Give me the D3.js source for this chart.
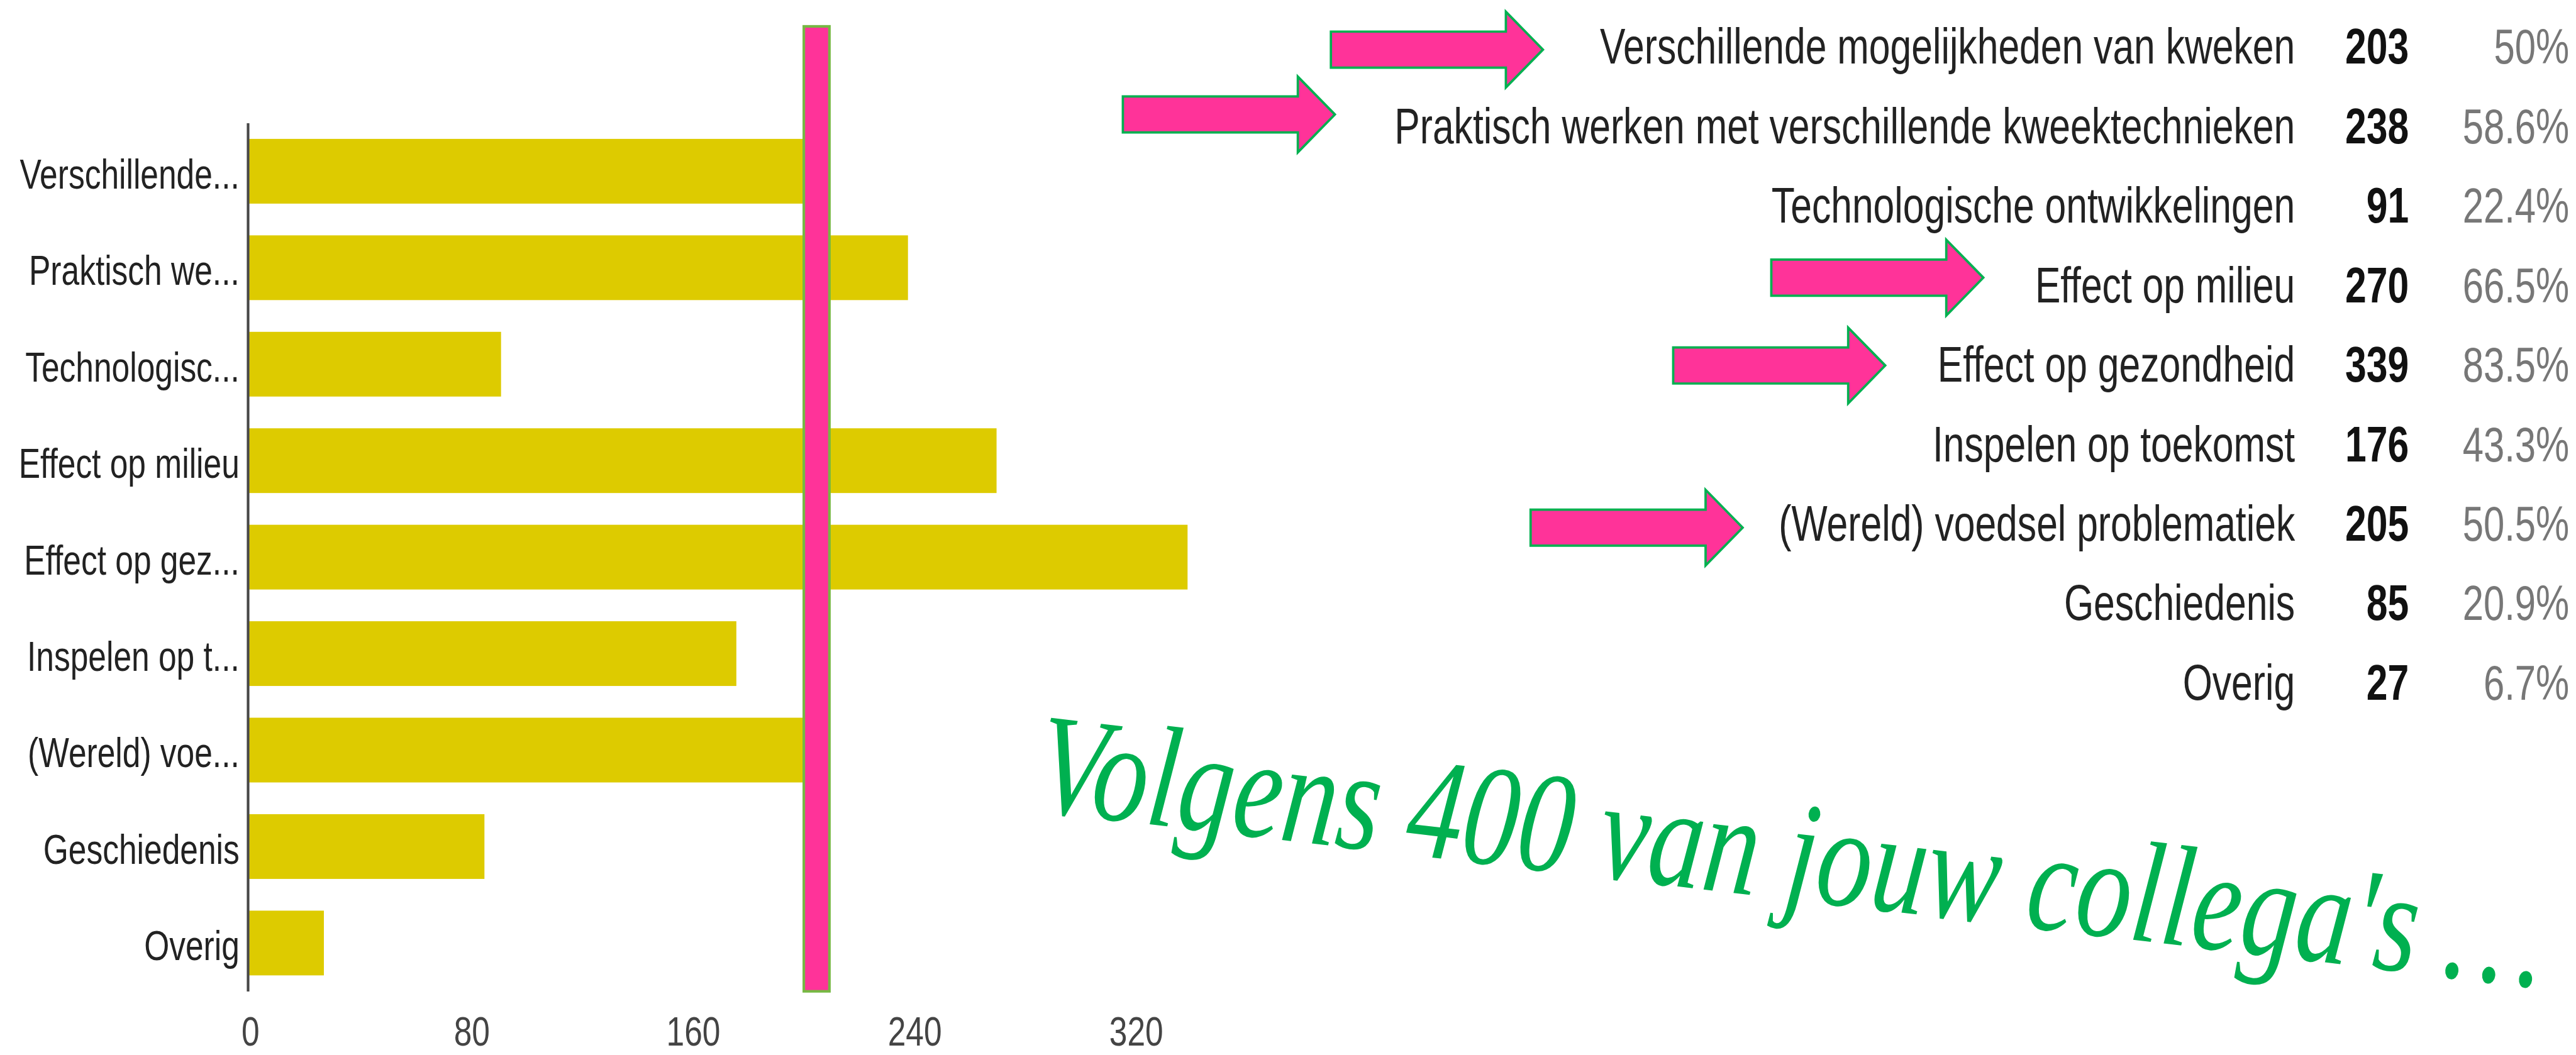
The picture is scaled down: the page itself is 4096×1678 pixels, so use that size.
<!DOCTYPE html>
<html>
<head>
<meta charset="utf-8">
<script src="https://cdn.jsdelivr.net/npm/d3@7"></script>
<style>
  html, body { margin: 0; padding: 0; background: #ffffff; }
  svg { display: block; }
</style>
</head>
<body>
<script>
// ---------------- DATA ----------------
const categories = [
  "Verschillende mogelijkheden van kweken",
  "Praktisch werken met verschillende kweektechnieken",
  "Technologische ontwikkelingen",
  "Effect op milieu",
  "Effect op gezondheid",
  "Inspelen op toekomst",
  "(Wereld) voedsel problematiek",
  "Geschiedenis",
  "Overig"
];
const axisLabels = [
  "Verschillende...",
  "Praktisch we...",
  "Technologisc...",
  "Effect op milieu",
  "Effect op gez...",
  "Inspelen op t...",
  "(Wereld) voe...",
  "Geschiedenis",
  "Overig"
];
const counts = [203, 238, 91, 270, 339, 176, 205, 85, 27];
const percentLabels = ["50%", "58.6%", "22.4%", "66.5%", "83.5%", "43.3%", "50.5%", "20.9%", "6.7%"];
const xTicks = [0, 80, 160, 240, 320];
const xDomainMax = 400;
const markerValue = 205;   // pink highlight line
const highlighted = [
  "Verschillende mogelijkheden van kweken",
  "Praktisch werken met verschillende kweektechnieken",
  "Effect op milieu",
  "Effect op gezondheid",
  "(Wereld) voedsel problematiek"
];
const annotationText = "Volgens 400 van jouw collega's \u2026";

// ---------------- LAYOUT (reference pixel space) ----------------
const W = 4096, H = 1678;
const S = W / 4932;          // draw at 0.830 of reference size
const K = 1.31;              // vertical text stretch seen in the reference
const FONT = "'Liberation Sans', Arial, sans-serif";
const BAR = "#DDCB00", PINK = "#FF3399", GREEN = "#00B050", LINEGREEN = "#76B843";

// arrow nudges per highlighted row: gap from label start, lift above baseline
const arrowLayout = [
  {gap: 109, lift: 27},
  {gap: 114, lift: 55},
  {gap: 99,  lift: 47},
  {gap: 100, lift: 31},
  {gap: 69,  lift: 25}
];

const svg = d3.select("body").append("svg")
  .attr("width", W).attr("height", H)
  .attr("viewBox", `0 0 ${W} ${H}`);
svg.append("rect").attr("width", W).attr("height", H).attr("fill", "#fff");
const root = svg.append("g").attr("transform", `scale(${S})`);

// ---------------- LEFT BAR CHART ----------------
const x = d3.scaleLinear().domain([0, xDomainMax]).range([477, 477 + 5.30 * xDomainMax]);
const y = d3.scaleBand().domain(categories).range([235.6, 1898.4])
  .paddingInner(0.329).paddingOuter(0.1645);

root.append("g").selectAll("rect.bar")
  .data(categories)
  .join("rect")
  .attr("class", "bar")
  .attr("x", x(0))
  .attr("y", d => y(d))
  .attr("width", (d, i) => x(counts[i]) - x(0))
  .attr("height", y.bandwidth())
  .attr("fill", BAR);

// left axis (categories)
const labelOf = d3.scaleOrdinal().domain(categories).range(axisLabels);
const yAxisG = root.append("g")
  .attr("transform", `translate(${x(0) - 2.5},0)`)
  .call(d3.axisLeft(y).tickSize(0).tickSizeOuter(0).tickFormat(d => labelOf(d)));
yAxisG.select(".domain").attr("stroke", "#474747").attr("stroke-width", 5);
yAxisG.selectAll(".tick text")
  .attr("x", 0).attr("y", 0).attr("dy", null)
  .attr("transform", `translate(-16,33) scale(1,${K})`)
  .attr("text-anchor", "end")
  .attr("font-family", FONT).attr("font-size", 62).attr("fill", "#222");

// bottom axis (values)
const xAxisG = root.append("g")
  .attr("transform", `translate(0,1903)`)
  .call(d3.axisBottom(x).tickValues(xTicks).tickSize(0).tickFormat(d3.format("d")));
xAxisG.select(".domain").remove();
xAxisG.selectAll(".tick text")
  .attr("x", 0).attr("y", 0).attr("dy", null)
  .attr("transform", `translate(2,99) scale(1,1.25)`)
  .attr("text-anchor", "middle")
  .attr("font-family", FONT).attr("font-size", 62).attr("fill", "#444");

// pink marker line
root.append("rect")
  .attr("x", x(markerValue) - 24.5)
  .attr("y", 50.5)
  .attr("width", 49)
  .attr("height", 1848)
  .attr("fill", PINK)
  .attr("stroke", LINEGREEN)
  .attr("stroke-width", 5);

// ---------------- RIGHT TABLE ----------------
const rowY = d3.scalePoint().domain(categories).range([122, 1340]);
const labelRight = 4394, numRight = 4612, pctRight = 4919;

const table = root.append("g");
const rows = table.selectAll("g.row").data(categories).join("g")
  .attr("class", "row")
  .attr("transform", d => `translate(0,${rowY(d)})`);

rows.append("text")
  .attr("class", "lbl")
  .attr("transform", `translate(${labelRight},0) scale(1,${K})`)
  .attr("text-anchor", "end")
  .attr("font-family", FONT).attr("font-size", 73).attr("fill", "#222")
  .text(d => d);

rows.append("text")
  .attr("transform", `translate(${numRight},0) scale(1,${K})`)
  .attr("text-anchor", "end")
  .attr("font-family", FONT).attr("font-size", 73).attr("font-weight", "bold").attr("fill", "#111")
  .text((d, i) => counts[i]);

rows.append("text")
  .attr("transform", `translate(${pctRight},0) scale(1,${K})`)
  .attr("text-anchor", "end")
  .attr("font-family", FONT).attr("font-size", 72).attr("fill", "#777")
  .text((d, i) => percentLabels[i]);

// ---------------- ARROWS ----------------
function arrowPath(tx, ty) {
  const bodyL = 335, headL = 71, bh = 34.5, hh = 72.5;
  return d3.line()([
    [tx - headL - bodyL, ty - bh], [tx - headL, ty - bh], [tx - headL, ty - hh],
    [tx, ty], [tx - headL, ty + hh], [tx - headL, ty + bh], [tx - headL - bodyL, ty + bh]
  ]) + "Z";
}
const arrowsG = root.append("g");
highlighted.forEach((cat, j) => {
  const node = rows.filter(d => d === cat).select("text.lbl").node();
  const textLeft = labelRight - node.getComputedTextLength();
  const lay = arrowLayout[j];
  arrowsG.append("path")
    .attr("d", arrowPath(textLeft - lay.gap, rowY(cat) - lay.lift))
    .attr("fill", PINK)
    .attr("stroke", GREEN)
    .attr("stroke-width", 4.5)
    .attr("stroke-linejoin", "miter");
});

// ---------------- HANDWRITTEN NOTE ----------------
root.append("text")
  .attr("transform", `translate(3420,1722) rotate(6.7) scale(1,1.3)`)
  .attr("text-anchor", "middle")
  .attr("font-family", "'Liberation Serif', 'DejaVu Serif', serif")
  .attr("font-style", "italic")
  .attr("font-size", 212)
  .attr("fill", GREEN)
  .text(annotationText);
</script>
</body>
</html>
